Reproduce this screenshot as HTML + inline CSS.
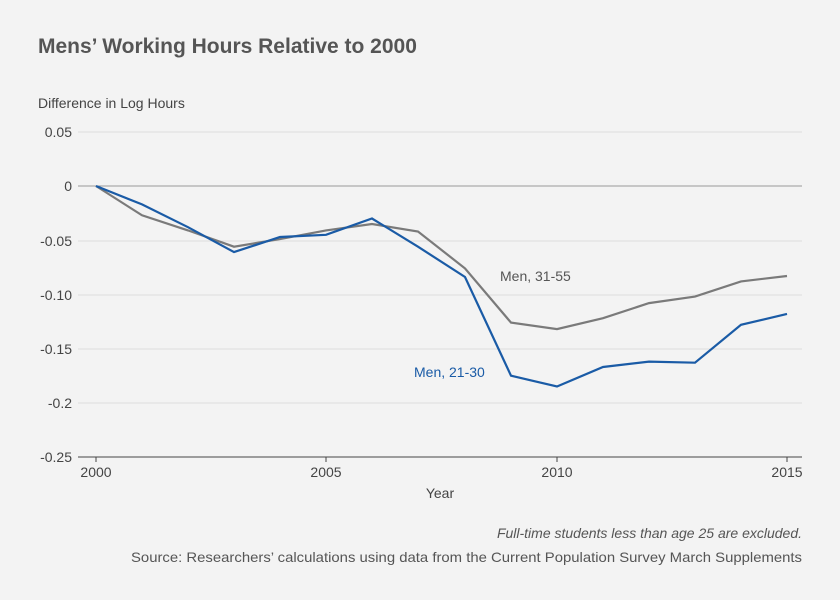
<!DOCTYPE html>
<html><head><meta charset="utf-8"><style>
body{margin:0;background:#f3f3f3;}
svg{display:block;font-family:"Liberation Sans",sans-serif;}
</style></head><body>
<svg width="840" height="600" viewBox="0 0 840 600">
<rect width="840" height="600" fill="#f3f3f3"/>
<text x="38" y="53" font-size="21" font-weight="bold" fill="#555">Mens’ Working Hours Relative to 2000</text>
<text x="38" y="108" font-size="14" fill="#444">Difference in Log Hours</text>
<g stroke="#dcdcdc" stroke-width="1">
<line x1="78" y1="132" x2="802" y2="132"/>
<line x1="78" y1="241" x2="802" y2="241"/>
<line x1="78" y1="295" x2="802" y2="295"/>
<line x1="78" y1="349" x2="802" y2="349"/>
<line x1="78" y1="403" x2="802" y2="403"/>
</g>
<line x1="78" y1="186" x2="802" y2="186" stroke="#999" stroke-width="1"/>
<line x1="78" y1="457" x2="802" y2="457" stroke="#444" stroke-width="1"/>
<g stroke="#444"><line x1="96" y1="457" x2="96" y2="462"/><line x1="326" y1="457" x2="326" y2="462"/><line x1="557" y1="457" x2="557" y2="462"/><line x1="787" y1="457" x2="787" y2="462"/></g>
<g font-size="14" fill="#444" text-anchor="end">
<text x="72" y="137">0.05</text><text x="72" y="191">0</text><text x="72" y="246">-0.05</text>
<text x="72" y="300">-0.10</text><text x="72" y="354">-0.15</text><text x="72" y="408">-0.2</text><text x="72" y="462">-0.25</text>
</g>
<g font-size="14" fill="#444" text-anchor="middle">
<text x="96" y="477">2000</text><text x="326" y="477">2005</text><text x="557" y="477">2010</text><text x="787" y="477">2015</text>
<text x="440" y="498">Year</text>
</g>
<polyline fill="none" stroke="#7a7a7a" stroke-width="2.2" points="96,186 142,215.3 188,230.4 234,246.7 280,239.1 326,230.4 372,224 418,231.5 465,268.4 511,322.6 557,329.1 603,318.2 649,303.1 695,296.6 741,281.4 787,276"/>
<polyline fill="none" stroke="#1a5ba6" stroke-width="2.2" points="96,186 142,204.4 188,227.2 234,252.1 280,237 326,234.8 372,218.5 418,246.7 465,277 511,375.7 557,386.5 603,367 649,361.6 695,362.7 741,324.8 787,313.9"/>
<text x="500" y="281" font-size="14" fill="#555">Men, 31-55</text>
<text x="414" y="377" font-size="14" fill="#1a5ba6">Men, 21-30</text>
<text x="802" y="538" font-size="14" font-style="italic" fill="#555" text-anchor="end">Full-time students less than age 25 are excluded.</text>
<text x="131" y="562" font-size="14" fill="#555" textLength="671" lengthAdjust="spacingAndGlyphs">Source: Researchers’ calculations using data from the Current Population Survey March Supplements</text>
</svg>
</body></html>
